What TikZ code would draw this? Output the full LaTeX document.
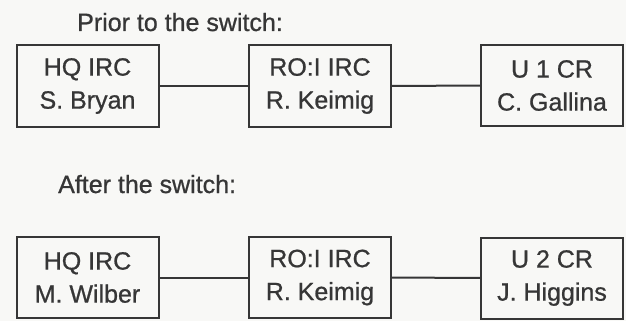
\documentclass[tikz,border=0pt]{standalone}
\usepackage{fontspec}
\setmainfont[FakeBold=0.8]{Liberation Sans}
\definecolor{ink}{HTML}{363636}
\definecolor{paper}{HTML}{F8F8F6}
\begin{document}
\begin{tikzpicture}[x=1pt,y=-1pt,
  orgbox/.style={draw=ink, line width=2pt, minimum width=142pt, minimum height=81pt,
    align=center, text=ink, inner sep=0pt, font=\fontsize{25}{33}\selectfont},
  title/.style={anchor=base west, text=ink, inner sep=0pt, font=\fontsize{25}{30}\selectfont},
  link/.style={draw=ink, line width=2pt}]
\fill[paper] (0,0) rectangle (626,321);
\useasboundingbox (0,0) rectangle (626,321);
\node[title] (t1) at (77,31) {Prior to the switch:};
\node[orgbox] (a1) at (87.5,86) {HQ IRC\\S. Bryan};
\node[orgbox] (b1) at (320,86) {RO:I IRC\\R. Keimig};
\node[orgbox] (c1) at (552,85.5) {U 1 CR\\C. Gallina};
\draw[link] (a1) -- (b1);
\draw[link] (b1) -- (c1);
\node[title] (t2) at (58,193) {After the switch:};
\node[orgbox] (a2) at (87.5,277.5) {HQ IRC\\M. Wilber};
\node[orgbox] (b2) at (320,277.5) {RO:I IRC\\R. Keimig};
\node[orgbox] (c2) at (552,278) {U 2 CR\\J. Higgins};
\draw[link] (a2) -- (b2);
\draw[link] (b2) -- (c2);
\end{tikzpicture}
\end{document}
